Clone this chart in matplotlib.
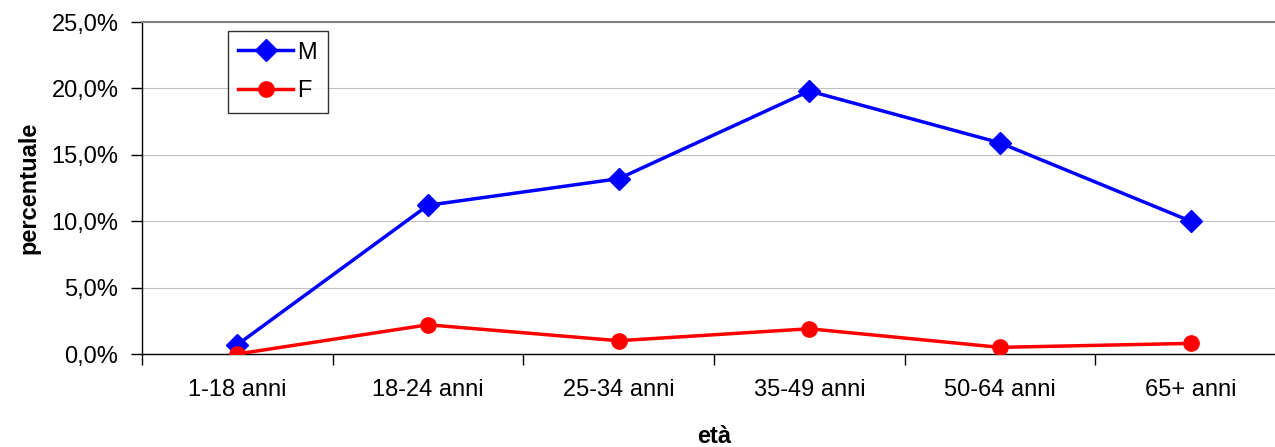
import numpy as np
import matplotlib
matplotlib.use("Agg")
import matplotlib.pyplot as plt
from matplotlib.ticker import FuncFormatter, FixedLocator

categorie = ['1-18 anni', '18-24 anni', '25-34 anni', '35-49 anni', '50-64 anni', '65+ anni']
maschi = [0.7, 11.2, 13.2, 19.8, 15.9, 10.0]
femmine = [0.0, 2.2, 1.0, 1.9, 0.5, 0.8]
yticks = [0, 5, 10, 15, 20, 25]

plt.rcParams['font.family'] = ['Liberation Sans', 'DejaVu Sans']
fs = 17

fig = plt.figure(figsize=(12.75, 4.47), dpi=100)
ax = fig.add_axes([142 / 1275, 1 - 354 / 447, 1144 / 1275, 332 / 447])

x = np.arange(len(categorie))
ax.plot(x, maschi, color='#0000ff', lw=2.5, marker='D', ms=11.5, label='M', zorder=3)
ax.plot(x, femmine, color='#ff0000', lw=2.5, marker='o', ms=11, label='F', zorder=3)

ax.set_xlim(-0.5, len(categorie) - 0.5)
ax.set_ylim(0, 25)
ax.set_yticks(yticks)
ax.yaxis.set_major_formatter(FuncFormatter(lambda v, p: f'{v:.1f}%'.replace('.', ',')))
ax.set_xticks(x)
ax.set_xticklabels(categorie)
ax.xaxis.set_minor_locator(FixedLocator(np.arange(-0.5, len(categorie), 1)))
ax.tick_params(axis='x', which='major', length=0, pad=18, labelsize=fs)
ax.tick_params(axis='x', which='minor', length=8, width=1, direction='out')
ax.tick_params(axis='y', length=8, width=1, direction='out', labelsize=fs, pad=9)

ax.grid(axis='y', color='#c0c0c0', lw=0.8)
ax.set_axisbelow(True)
for s in ['left', 'bottom']:
    ax.spines[s].set_color('black')
    ax.spines[s].set_linewidth(1)
ax.spines['top'].set_color('#808080')
ax.spines['top'].set_linewidth(1.5)
ax.spines['right'].set_visible(False)

ax.set_ylabel('percentuale', fontsize=fs, fontweight='bold', labelpad=8)
ax.set_xlabel('età', fontsize=fs, fontweight='bold', labelpad=17)

leg = ax.legend(loc='upper left', bbox_to_anchor=(0.075, 0.973), borderaxespad=0,
                fontsize=fs, frameon=True, fancybox=False, edgecolor='black',
                handlelength=2.3, handletextpad=0.2, labelspacing=0.7, borderpad=0.45)
leg.get_frame().set_linewidth(1)

fig.savefig('out.png', dpi=100)
